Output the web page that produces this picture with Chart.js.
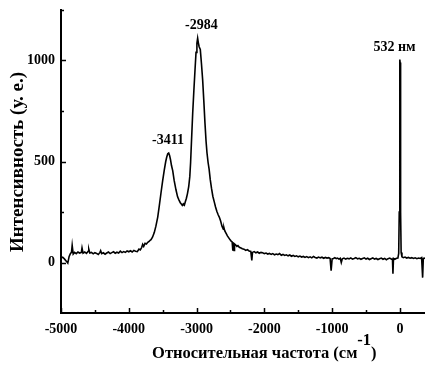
<!DOCTYPE html>
<html><head><meta charset="utf-8">
<script src="https://cdn.jsdelivr.net/npm/chart.js@4"></script>
<style>html,body{margin:0;padding:0;background:#fff;}</style>
</head><body>
<canvas id="c" width="425" height="365"></canvas>
<script>
// Raman shift (cm^-1)
const shift = [-5000,-4975,-4950,-4925,-4900,-4880,-4860,-4845,-4835,-4820,-4800,-4775,-4750,-4725,-4700,-4690,-4675,-4650,-4625,-4600,-4590,-4575,-4550,-4525,-4500,-4475,-4450,-4425,-4415,-4400,-4375,-4350,-4325,-4300,-4275,-4250,-4225,-4200,-4175,-4150,-4125,-4100,-4075,-4050,-4025,-4000,-3975,-3950,-3925,-3900,-3875,
-3850,-3830,-3810,-3795,-3780,-3760,-3740,-3720,-3700,-3685,-3672,-3650,-3624,-3600,-3573,-3550,-3525,-3500,-3476,-3455,-3440,-3425,-3411,-3398,-3385,-3370,-3352,-3330,-3304,-3280,-3259,-3240,-3225,-3210,-3195,-3180,-3166,-3150,-3135,-3116,-3100,-3088,-3075,-3057,-3040,-3023,-3008,-2995,-2984,-2975,-2962,-2945,-2928,-2910,-2893,-2876,-2860,-2846,-2830,-2815,-2798,-2780,-2760,-2739,-2720,-2700,-2680,-2665,-2645,-2625,-2605,-2596,-2585,-2566,-2545,-2525,-2505,-2490,-2475,-2465,-2455,-2447,-2440,-2425,-2405,-2390,-2370,-2345,-2325,-2300,
-2275,-2250,-2225,-2200,-2185,-2175,-2150,-2125,-2100,-2075,-2050,-2025,-2000,-1975,-1950,-1925,-1900,-1875,-1850,-1825,-1800,-1775,-1750,-1725,-1700,-1675,-1650,-1625,-1600,-1575,-1550,-1525,-1500,-1475,-1450,-1425,-1400,-1375,-1350,-1325,-1300,-1275,-1250,-1225,-1200,-1175,-1150,-1125,-1100,-1075,-1050,-1030,-1015,-1000,-980,-960,-940,-920,-900,-880,-865,-850,-825,-800,-775,-750,-725,-700,-675,-650,-625,-600,-575,-550,-525,-500,-475,-450,-425,-400,-375,-350,-325,-300,-275,-250,-225,-200,-175,-150,-125,-110,-103,-95,-75,-50,-30,-18,-10,-3,0,3,10,18,30,50,75,100,125,150,175,200,225,250,275,300,320,335,345,370];
// Intensity (a.u.)
const intensity = [22,26,18,8,-3,30,45,50,85,42,50,44,52,47,50,72,46,52,45,55,66,47,50,43,49,45,40,50,58,44,48,41,47,52,44,49,53,46,51,47,56,49,54,50,57,53,58,52,60,56,54,
66,62,74,90,80,95,92,100,104,110,113,125,148,180,225,280,344,405,458,500,522,538,542,530,510,480,455,405,360,325,309,296,290,283,290,284,301,318,340,375,425,495,600,740,850,953,1040,1085,1110,1090,1068,1055,985,903,800,690,600,542,495,462,410,368,328,300,275,252,235,225,205,180,165,172,158,146,132,122,112,106,102,58,97,60,92,88,80,84,75,72,68,66,
60,64,57,55,10,50,54,48,52,46,50,48,44,47,42,45,40,44,38,42,39,44,36,40,35,38,33,37,31,35,30,33,28,32,27,30,25,29,24,28,23,30,25,22,27,23,26,21,25,22,24,20,-40,18,20,24,19,22,17,21,0,18,22,17,21,18,23,17,20,24,18,21,16,20,23,17,21,15,19,23,17,20,15,19,22,16,20,14,19,22,17,18,-55,20,16,21,22,45,250,990,1005,990,250,50,28,24,27,22,25,21,24,20,23,19,22,20,24,-75,20,22];

const xTickLabels = [-5000,-4000,-3000,-2000,-1000,0];
const xMinorTicks = [-4500,-3500,-2500,-1500,-500];
const yTickLabels = [0,500,1000];
const yMinorTicks = [250,750,1250];
const peakLabels = ['-3411','-2984','532 нм'];
const peakLabelX = [-3422,-2928,-81];
const peakLabelY = [606,1173,1067];
const xTitle = 'Относительная частота (см';
const xTitleSup = '-1';
const xTitleEnd = ')';
const yTitle = 'Интенсивность (у. е.)';

const FONT = '"Liberation Serif","Times New Roman",serif';

const decor = {
  id: 'decor',
  afterDraw(chart) {
    const {ctx, scales: {x, y}, chartArea: a} = chart;
    ctx.save();
    ctx.strokeStyle = '#000';
    ctx.lineWidth = 1.5;
    ctx.beginPath();
    xTickLabels.forEach(v => { const p = Math.round(x.getPixelForValue(v)) + 0.5; ctx.moveTo(p, a.bottom); ctx.lineTo(p, a.bottom - 5); });
    xMinorTicks.forEach(v => { const p = Math.round(x.getPixelForValue(v)) + 0.5; ctx.moveTo(p, a.bottom); ctx.lineTo(p, a.bottom - 3); });
    yTickLabels.forEach(v => { const p = Math.round(y.getPixelForValue(v)) + 0.5; ctx.moveTo(a.left, p); ctx.lineTo(a.left + 5, p); });
    yMinorTicks.forEach(v => { const p = Math.round(y.getPixelForValue(v)) + 0.5; ctx.moveTo(a.left, p); ctx.lineTo(a.left + 3, p); });
    ctx.stroke();

    ctx.fillStyle = '#000';
    ctx.font = 'bold 14px ' + FONT;
    ctx.textAlign = 'center';
    ctx.textBaseline = 'middle';
    peakLabels.forEach((t, i) => ctx.fillText(t, x.getPixelForValue(peakLabelX[i]), y.getPixelForValue(peakLabelY[i])));

    // x-axis title with superscript
    ctx.font = 'bold 16.5px ' + FONT;
    ctx.textAlign = 'left';
    ctx.textBaseline = 'alphabetic';
    const w1 = ctx.measureText(xTitle).width;
    const w2 = ctx.measureText(xTitleSup).width;
    const w3 = ctx.measureText(xTitleEnd).width;
    const cx = x.getPixelForValue(-2000);
    const sx = cx - (w1 + w2 + w3) / 2;
    const base = 358;
    ctx.fillText(xTitle, sx, base);
    ctx.fillText(xTitleSup, sx + w1, base - 13);
    ctx.fillText(xTitleEnd, sx + w1 + w2, base);

    // y-axis title
    ctx.translate(23, 162);
    ctx.rotate(-Math.PI / 2);
    ctx.font = 'bold 19px ' + FONT;
    ctx.textAlign = 'center';
    ctx.fillText(yTitle, 0, 0);
    ctx.restore();
  }
};

new Chart(document.getElementById('c'), {
  type: 'scatter',
  data: {
    datasets: [{
      data: shift.map((s, i) => ({x: s, y: intensity[i]})),
      showLine: true,
      borderColor: '#000',
      borderWidth: 1.6,
      pointRadius: 0,
      tension: 0,
      fill: false
    }]
  },
  options: {
    responsive: false,
    animation: false,
    layout: {padding: {top: 10, right: 0, left: 0, bottom: 0}},
    plugins: {legend: {display: false}, tooltip: {enabled: false}},
    scales: {
      x: {
        type: 'linear', min: -5000, max: 370,
        afterBuildTicks: s => { s.ticks = xTickLabels.map(v => ({value: v})); },
        afterFit: s => { s.height = 52; s.paddingLeft = 0; s.paddingRight = 0; },
        grid: {display: false, drawTicks: false},
        border: {display: true, color: '#000', width: 2},
        ticks: {color: '#000', font: {family: FONT, size: 14, weight: 'bold'}, padding: 8, maxRotation: 0, autoSkip: false, callback: v => String(v)}
      },
      y: {
        type: 'linear', min: -250, max: 1250,
        afterBuildTicks: s => { s.ticks = yTickLabels.map(v => ({value: v})); },
        afterFit: s => { s.width = 61; s.paddingTop = 0; s.paddingBottom = 0; },
        grid: {display: false, drawTicks: false},
        border: {display: true, color: '#000', width: 2},
        ticks: {color: '#000', font: {family: FONT, size: 14, weight: 'bold'}, padding: 6, callback: v => String(v)}
      }
    }
  },
  plugins: [decor]
});
</script>
</body></html>
